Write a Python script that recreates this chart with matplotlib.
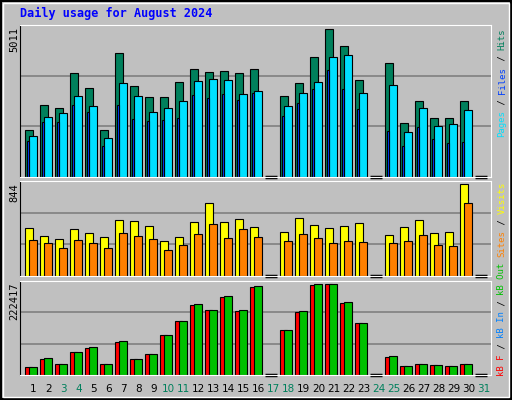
import numpy as np
import matplotlib.pyplot as plt
from matplotlib.patches import Rectangle

days = np.arange(1, 32)
weekend = [3, 4, 10, 11, 17, 18, 24, 25, 31]

hits = [1530, 2356, 2257, 3413, 2918, 1530, 4074, 2984, 2620, 2620, 3116, 3545, 3446, 3479, 3413, 3545,
        0, 2653, 3083, 3964, 4866, 4305, 3182, 0, 3743, 1762, 2488, 1927, 1927, 2488, 0]
pages = [1332, 1960, 2092, 2653, 2323, 1266, 3083, 2653, 2125, 2257, 2488, 3149, 3215, 3182, 2719, 2819,
         0, 2323, 2753, 3116, 3942, 4008, 2753, 0, 3017, 1464, 2257, 1663, 1729, 2191, 0]
files = [1167, 1795, 1795, 2356, 2125, 1002, 2356, 1894, 1828, 1861, 1927, 2686, 2587, 2719, 2521, 2753,
         0, 1993, 2422, 2885, 3512, 2885, 2224, 0, 1497, 1002, 1629, 1233, 1101, 1134, 0]
visits = [423, 352, 326, 415, 379, 343, 494, 486, 441, 308, 343, 477, 646, 477, 503, 432,
          0, 388, 512, 450, 423, 441, 468, 0, 361, 432, 494, 379, 388, 814, 0]
sites = [317, 290, 246, 317, 290, 246, 379, 352, 326, 228, 272, 370, 459, 335, 415, 343,
         0, 308, 370, 335, 290, 308, 299, 0, 290, 308, 361, 272, 264, 646, 0]
kb_f = [20400, 37700, 25900, 55800, 63700, 27500, 77800, 37700, 51100, 95900, 127300, 165000, 154800, 183900, 150900, 207500,
        0, 106100, 148500, 212200, 214600, 169800, 122600, 0, 42400, 21200, 27500, 23600, 22800, 27500, 0]
kb_out = [20400, 40000, 27500, 55800, 66000, 27500, 80200, 37700, 51100, 95900, 127300, 167400, 154800, 186200, 153300, 209800,
          0, 106100, 150900, 214600, 214600, 172100, 122600, 0, 44800, 22800, 27500, 25200, 22800, 27500, 0]
max_hits, max_visits, max_kb = 5011, 844, 222417

W, H = 512, 400
BG = '#C0C0C0'
fig = plt.figure(figsize=(W / 100, H / 100), dpi=100)
fig.patch.set_facecolor(BG)
fig.patches.append(Rectangle((0, 0), 1, 1, transform=fig.transFigure, fill=False, ec='black', lw=3))
fig.patches.append(Rectangle((3 / W, 3 / H), 1 - 6 / W, 1 - 6 / H, transform=fig.transFigure, fill=False, ec='white', lw=1))


def panel(top, bottom, ymax):
    ax = fig.add_axes([20 / W, 1 - bottom / H, 471 / W, (bottom - top) / H])
    ax.set_facecolor(BG)
    ax.set_xlim(2 / 3, 32.07)
    ax.set_ylim(0, ymax)
    for y in (ymax / 3, 2 * ymax / 3):
        ax.axhline(y, color='#808080', lw=1.2, zorder=0)
    ax.set_xticks([])
    ax.set_yticks([])
    ax.spines['left'].set_color('black')
    ax.spines['top'].set_color('white')
    ax.spines['right'].set_color('white')
    ax.spines['bottom'].set_color('white')
    return ax


def bars(ax, vals, off, w, color):
    v = np.array(vals)
    m = v > 0
    ax.bar(days[m] + off, v[m], width=w, align='edge', color=color, edgecolor='black', lw=0.8)


def zeros(ax, vals):
    for d, v in zip(days, vals):
        if v == 0:
            ax.plot([d, d + 0.78], [0, 0], color='black', lw=2.5, clip_on=False, solid_capstyle='butt')


ax1 = panel(25, 176.7, max_hits)
bars(ax1, hits, 0, 0.53, '#00805C')
bars(ax1, pages, 0.29, 0.5, '#00E0FF')
bars(ax1, files, 0.11, 0.17, '#0040FF')
zeros(ax1, hits)

ax2 = panel(181, 276, max_visits)
bars(ax2, visits, 0, 0.51, '#FFFF00')
bars(ax2, sites, 0.29, 0.49, '#FF8000')
zeros(ax2, visits)

ax3 = panel(281, 375.3, max_kb)
bars(ax3, kb_f, 0, 0.5, '#FF0000')
bars(ax3, kb_out, 0.29, 0.49, '#00C000')
zeros(ax3, kb_f)

mono = 'DejaVu Sans Mono'
fig.text(20 / W, 1 - 13 / H, 'Daily usage for August 2024', color='#0000FF', family=mono,
         weight='bold', fontsize=8.5, va='center', ha='left')

for txt, top in ((str(max_hits), 27), (str(max_visits), 183), (str(max_kb), 283)):
    fig.text(14 / W, 1 - top / H, txt, rotation=90, family=mono, fontsize=7.5, va='top', ha='center')


def side_label(parts, bottom):
    y = bottom
    cw = 5.43
    for txt, col in parts:
        fig.text(502 / W, 1 - y / H, txt, rotation=90, family=mono, fontsize=6.5, color=col,
                 va='bottom', ha='center')
        y -= cw * len(txt)


side_label([('Pages', '#00E0FF'), (' / ', 'black'), ('Files', '#0040FF'), (' / ', 'black'), ('Hits', '#00805C')], 137)
side_label([('Sites', '#FF8000'), (' / ', 'black'), ('Visits', '#FFFF00')], 257)
side_label([('kB F', '#FF0000'), (' / ', 'black'), ('kB In', '#0080FF'), (' / ', 'black'), ('kB Out', '#00C000')], 376)

for d in days:
    col = '#00805C' if d in weekend else 'black'
    x = 25 + 15 * (d - 1) + 8.5
    fig.text(x / W, 1 - 389 / H, str(d), color=col, fontsize=7.5, ha='center', va='center')

fig.savefig('out.png', dpi=100, facecolor=BG)
